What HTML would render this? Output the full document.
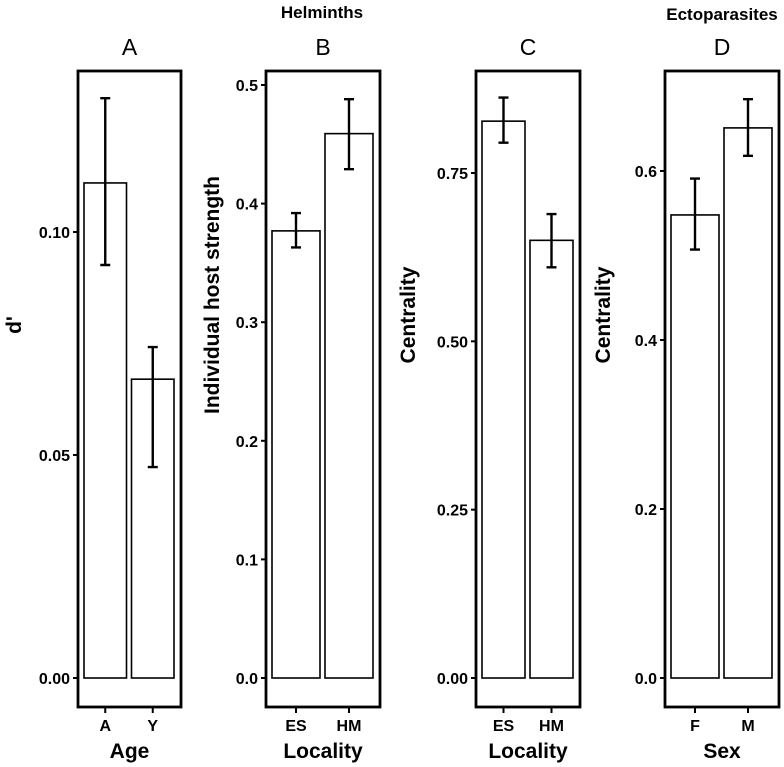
<!DOCTYPE html>
<html><head><meta charset="utf-8"><style>
html,body{margin:0;padding:0;background:#fff;}
svg{display:block;font-family:"Liberation Sans",Arial,sans-serif;}
</style></head><body>
<svg id="chart" width="784" height="767" viewBox="0 0 784 767"></svg>
<script>
const panelLetters = ["A","B","C","D"];
const categoriesA = ["A","Y"];
const valuesA = [0.111, 0.067];
const lowA = [0.0926, 0.0473];
const highA = [0.130, 0.0742];
const ticksA = [0.00, 0.05, 0.10];
const tickLabelsA = ["0.00","0.05","0.10"];
const categoriesB = ["ES","HM"];
const valuesB = [0.377, 0.459];
const lowB = [0.363, 0.429];
const highB = [0.392, 0.488];
const ticksB = [0.0,0.1,0.2,0.3,0.4,0.5];
const tickLabelsB = ["0.0","0.1","0.2","0.3","0.4","0.5"];
const categoriesC = ["ES","HM"];
const valuesC = [0.827, 0.650];
const lowC = [0.795, 0.610];
const highC = [0.862, 0.689];
const ticksC = [0.00,0.25,0.50,0.75];
const tickLabelsC = ["0.00","0.25","0.50","0.75"];
const categoriesD = ["F","M"];
const valuesD = [0.548, 0.651];
const lowD = [0.507, 0.618];
const highD = [0.591, 0.685];
const ticksD = [0.0,0.2,0.4,0.6];
const tickLabelsD = ["0.0","0.2","0.4","0.6"];
const yTitles = ["d'","Individual host strength","Centrality","Centrality"];
const xTitles = ["Age","Locality","Locality","Sex"];

const NS = "http://www.w3.org/2000/svg";
const svg = document.getElementById('chart');
function mk(tag, attrs, parent){
  const e = document.createElementNS(NS, tag);
  for (const k in attrs) e.setAttribute(k, attrs[k]);
  (parent||svg).appendChild(e); return e;
}
const panels = [
  {x0:78,x1:181,yMaxVal:0.10,yMaxPx:232,cats:categoriesA,vals:valuesA,lo:lowA,hi:highA,ticks:ticksA,tl:tickLabelsA,yt:15,ty:325},
  {x0:266,x1:380,yMaxVal:0.5,yMaxPx:85,cats:categoriesB,vals:valuesB,lo:lowB,hi:highB,ticks:ticksB,tl:tickLabelsB,yt:213,ty:295},
  {x0:476,x1:580,yMaxVal:0.75,yMaxPx:173,cats:categoriesC,vals:valuesC,lo:lowC,hi:highC,ticks:ticksC,tl:tickLabelsC,yt:409,ty:315},
  {x0:665,x1:779,yMaxVal:0.6,yMaxPx:171,cats:categoriesD,vals:valuesD,lo:lowD,hi:highD,ticks:ticksD,tl:tickLabelsD,yt:604,ty:315}
];
const zeroPx = 678, frameTop = 71, frameBottom = 707;
panels.forEach((p,i)=>{
  const g = mk('g',{});
  
  
  const y = v => zeroPx - v/p.yMaxVal*(zeroPx-p.yMaxPx);
  const w = p.x1-p.x0;
  const bw = (w-18)/2;
  const xc = k => p.x0 + 6 + bw/2 + k*(bw+5);
  p.cats.forEach((c,k)=>{
    const bx = xc(k)-bw/2;
    const r = mk('rect',{x:bx,y:y(p.vals[k]),width:bw,height:zeroPx-y(p.vals[k]),fill:'#fff',stroke:'#000','stroke-width':1.6},g);
    
    
    const eb = mk('path',{d:`M${xc(k)} ${y(p.hi[k])}V${y(p.lo[k])}M${xc(k)-5} ${y(p.hi[k])}H${xc(k)+5}M${xc(k)-5} ${y(p.lo[k])}H${xc(k)+5}`,stroke:'#000','stroke-width':2.4,fill:'none'},g);
    
    
    mk('line',{x1:xc(k),x2:xc(k),y1:frameBottom,y2:frameBottom+6,stroke:'#000','stroke-width':2},g);
    const t = mk('text',{x:xc(k),y:frameBottom+24,'text-anchor':'middle','font-size':16,'font-weight':'bold'},g);
    t.textContent = c;
    
    
  });
  const box = mk('rect',{x:p.x0,y:frameTop,width:w,height:frameBottom-frameTop,fill:'none',stroke:'#000','stroke-width':2.8},g);
  
  
  p.ticks.forEach((tv,k)=>{
    mk('line',{x1:p.x0-5,x2:p.x0,y1:y(tv),y2:y(tv),stroke:'#000','stroke-width':2},g);
    const t = mk('text',{x:p.x0-8,y:y(tv)+6,'text-anchor':'end','font-size':16,'font-weight':'bold'},g);
    t.textContent = p.tl[k];
    
    
  });
  const tt = mk('text',{x:(p.x0+p.x1)/2,y:55,'text-anchor':'middle','font-size':23},g);
  tt.textContent = panelLetters[i];
  
  
  const xt = mk('text',{x:(p.x0+p.x1)/2,y:758,'text-anchor':'middle','font-size':21,'font-weight':'bold'},g);
  xt.textContent = xTitles[i];
  
  
  const yt = mk('text',{x:p.yt+6,y:p.ty,'text-anchor':'middle','font-size':21,'font-weight':'bold',transform:`rotate(-90 ${p.yt+6} ${p.ty})`},g);
  yt.textContent = yTitles[i];
  
  
});
const h = mk('text',{x:322,y:18,'text-anchor':'middle','font-size':17,'font-weight':'bold'});
h.textContent = 'Helminths';


const e = mk('text',{x:722,y:20,'text-anchor':'middle','font-size':17,'font-weight':'bold'});
e.textContent = 'Ectoparasites';


</script>
</body></html>
